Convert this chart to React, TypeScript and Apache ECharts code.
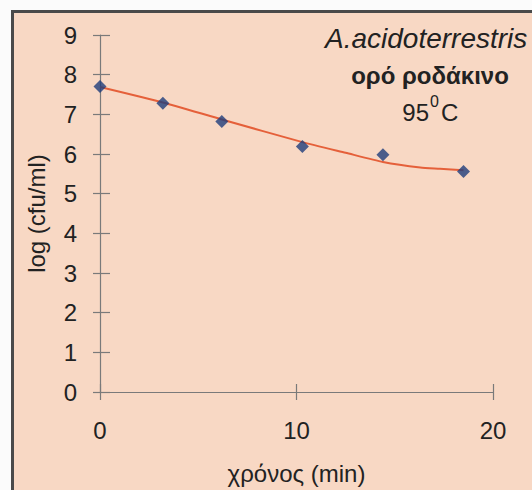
import React, { useEffect, useRef } from "react";
import * as echarts from "echarts";

const timeMin = [0, 3.2, 6.2, 10.3, 14.4, 18.5];
const logCfu = [7.7, 7.28, 6.82, 6.19, 5.98, 5.56];
const fitTime = [0, 3.2, 6.2, 10.3, 12.5, 14.4, 16.3, 17.3, 18.5];
const fitLog = [7.69, 7.3, 6.87, 6.3, 6.03, 5.8, 5.66, 5.63, 5.59];
const xTicks = [0, 10, 20];
const yTicks = [0, 1, 2, 3, 4, 5, 6, 7, 8, 9];

const FONT = "'Liberation Sans', Arial, sans-serif";

export default function App() {
  const ref = useRef<HTMLDivElement>(null);
  useEffect(() => {
    if (!ref.current) return;
    const chart = echarts.init(ref.current, undefined, { renderer: "svg" });
    const axisCol = "#7a7a7a";
    const common = { min: 0, splitLine: { show: false } };
    chart.setOption({
      animation: false,
      backgroundColor: "#fbfbfb",
      grid: { left: 100, right: 39, top: 35, bottom: 97 },
      graphic: [
        {
          type: "rect",
          z: -10,
          silent: true,
          shape: { x: 12.5, y: 11.5, width: 700, height: 700 },
          style: { fill: "#f8d8c4", stroke: "#4a4a4a", lineWidth: 3 },
        },
        {
          type: "text",
          x: 325,
          y: 38,
          style: {
            text: "A.acidoterrestris",
            font: `italic 28px ${FONT}`,
            fill: "#222",
            align: "left",
            verticalAlign: "middle",
          },
        },
        {
          type: "text",
          x: 430,
          y: 75,
          style: {
            text: "ορό ροδάκινο",
            font: `bold 24px ${FONT}`,
            fill: "#222",
            align: "center",
            verticalAlign: "middle",
          },
        },
        {
          type: "text",
          x: 429,
          y: 112,
          style: { text: "95", font: `24px ${FONT}`, fill: "#222", align: "right", verticalAlign: "middle" },
        },
        {
          type: "text",
          x: 430,
          y: 101,
          style: { text: "0", font: `16px ${FONT}`, fill: "#222", align: "left", verticalAlign: "middle" },
        },
        {
          type: "text",
          x: 441,
          y: 112,
          style: { text: "C", font: `24px ${FONT}`, fill: "#222", align: "left", verticalAlign: "middle" },
        },
      ],
      xAxis: [
        {
          ...common,
          type: "value",
          max: 20,
          interval: 10,
          name: "χρόνος (min)",
          nameLocation: "middle",
          nameGap: 69,
          nameTextStyle: { fontFamily: FONT, fontSize: 24, color: "#222" },
          axisLine: { onZero: false, lineStyle: { color: axisCol, width: 1.2 } },
          axisTick: { show: true, length: 8, lineStyle: { color: axisCol, width: 1.2 } },
          axisLabel: { margin: 26, fontFamily: FONT, fontSize: 24, color: "#222" },
        },
        {
          ...common,
          type: "value",
          max: 20,
          interval: 10,
          position: "bottom",
          axisLine: { show: false },
          axisTick: { show: true, inside: true, length: 8, lineStyle: { color: axisCol, width: 1.2 } },
          axisLabel: { show: false },
        },
      ],
      yAxis: [
        {
          ...common,
          type: "value",
          max: 9,
          interval: 1,
          name: "log (cfu/ml)",
          nameLocation: "middle",
          nameGap: 52,
          nameTextStyle: { fontFamily: FONT, fontSize: 24, color: "#222" },
          axisLine: { show: true, onZero: false, lineStyle: { color: axisCol, width: 1.2 } },
          axisTick: { show: true, length: 7, lineStyle: { color: axisCol, width: 1.2 } },
          axisLabel: { margin: 23, fontFamily: FONT, fontSize: 24, color: "#222" },
        },
        {
          ...common,
          type: "value",
          max: 9,
          interval: 1,
          position: "left",
          axisLine: { show: false },
          axisTick: { show: true, inside: true, length: 10, lineStyle: { color: axisCol, width: 1.2 } },
          axisLabel: { show: false },
        },
      ],
      series: [
        {
          type: "line",
          data: fitTime.map((t, i) => [t, fitLog[i]]),
          showSymbol: false,
          smooth: 0.2,
          lineStyle: { color: "#e5603a", width: 2 },
          z: 2,
        },
        {
          type: "scatter",
          data: timeMin.map((t, i) => [t, logCfu[i]]),
          symbol: "diamond",
          symbolSize: 13,
          itemStyle: { color: "#1f3d7c" },
          z: 3,
        },
      ],
    });
    return () => chart.dispose();
  }, []);
  return (
    <div style={{ position: "absolute", left: 0, top: 0, width: 532, height: 490 }}>
      <div ref={ref} style={{ width: 532, height: 490 }} />
    </div>
  );
}
